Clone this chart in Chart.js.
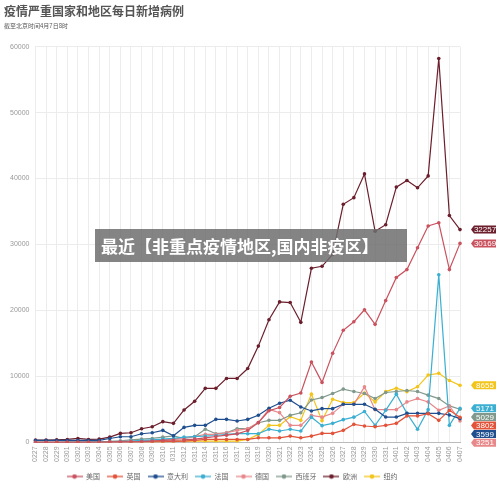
<!DOCTYPE html>
<html><head><meta charset="utf-8">
<script src="https://cdn.jsdelivr.net/npm/chart.js@4"></script>
<style>
html,body{margin:0;padding:0;background:#fff;}
#wrap{position:relative;width:500px;height:490px;}
#banner{position:absolute;left:95px;top:229px;width:312px;height:33px;background:rgba(110,110,110,0.85);color:#fff;font:bold 17px "Noto Sans CJK SC";line-height:33px;padding-left:6px;box-sizing:border-box;white-space:nowrap;}
</style></head><body>
<div id="wrap"><canvas id="c" width="500" height="490"></canvas><div id="banner">最近【非重点疫情地区,国内非疫区】</div></div>
<script>
const categories=["0227","0228","0229","0301","0302","0303","0304","0305","0306","0307","0308","0309","0310","0311","0312","0313","0314","0315","0316","0317","0318","0319","0320","0321","0322","0323","0324","0325","0326","0327","0328","0329","0330","0331","0401","0402","0403","0404","0405","0406","0407"];
const us=[10,5,10,20,20,30,30,50,70,100,120,200,300,350,400,500,700,900,1100,1300,1800,3000,4800,5300,7000,7500,12200,9100,13500,17000,18300,20100,17900,21500,25000,26200,29500,32800,33300,26200,30169];
const uk=[0,0,5,10,10,20,30,40,50,60,70,80,100,150,200,300,450,450,450,450,450,700,700,700,960,700,960,1370,1370,1830,2740,2490,2380,2590,2890,4010,4010,4360,3350,4870,3802];
const italy=[300,300,300,300,300,300,300,600,860,860,1320,1470,1830,1010,2280,2590,2590,3500,3500,3250,3500,4110,5180,5940,6390,5370,4770,5120,5120,5780,5780,5780,5020,3850,3850,4410,4410,4410,4410,4160,3599];
const france=[20,20,30,40,50,60,80,100,150,200,300,400,500,600,800,900,960,1050,1220,1320,1320,1320,2000,1730,2000,1730,3830,2540,2890,3450,3830,4690,2590,4870,7320,4410,2000,4970,25400,2590,5171];
const germany=[10,10,20,30,40,50,60,100,150,200,250,300,400,500,700,900,1220,1220,1470,1830,2080,3000,5020,4510,2590,2590,4100,3830,4410,5780,5780,8430,4970,4970,4970,6140,6650,6140,4870,5530,3251];
const spain=[10,10,20,30,50,70,100,150,250,400,500,600,800,1000,600,860,2000,1320,1470,2080,2080,2990,3350,3350,4110,4500,6440,6800,7420,8080,7720,7420,6650,7570,7720,7870,7720,7170,6650,5530,5029];
const europe=[350,350,400,450,600,450,500,800,1370,1470,2080,2380,3150,2890,4920,6240,8200,8200,9700,9700,11200,14600,18600,21300,21200,18200,26400,26700,28500,36100,37100,40700,32000,33000,38700,39700,38600,40400,58200,34400,32257];
const newyork=[null,null,null,null,null,null,null,null,null,100,100,150,100,150,200,200,200,200,200,200,450,1220,2590,2590,3900,3350,7320,3300,6550,6040,6040,7470,6140,7700,8220,7700,8430,10220,10480,9380,8655];
const seriesNames=["美国","英国","意大利","法国","德国","西班牙","欧洲","纽约"];
const seriesData=[us,uk,italy,france,germany,spain,europe,newyork];
const colors=["#c9525e","#e2533a","#1f4f8f","#3bafd2","#e8888a","#80998c","#6b1e2b","#f3c419"];
const yTicks=[0,10000,20000,30000,40000,50000,60000];

function legendIcon(col){const c=document.createElement('canvas');c.width=16;c.height=6;const g=c.getContext('2d');g.strokeStyle=col;g.lineWidth=1.3;g.beginPath();g.moveTo(0,3);g.lineTo(16,3);g.stroke();g.fillStyle=col;g.beginPath();g.arc(8,3,2.3,0,Math.PI*2);g.fill();return c;}

const endLabels={id:'endLabels',afterDatasetsDraw(chart){
  const ctx=chart.ctx;const items=[];
  chart.data.datasets.forEach((ds,i)=>{const meta=chart.getDatasetMeta(i);const p=meta.data[meta.data.length-1];items.push({y:p.y,v:ds.data[ds.data.length-1],c:ds.borderColor});});
  items.sort((a,b)=>a.y-b.y);
  for(let i=1;i<items.length;i++){if(items[i].y<items[i-1].y+8.6)items[i].y=items[i-1].y+8.6;}
  ctx.save();ctx.font='8px "Liberation Sans Narrow", "Liberation Sans"';ctx.textBaseline='middle';
  items.forEach(it=>{const x=474,w=22,h=8;ctx.fillStyle=it.c;ctx.beginPath();ctx.moveTo(x-3,it.y);ctx.lineTo(x,it.y-h/2);ctx.lineTo(x+w,it.y-h/2);ctx.lineTo(x+w,it.y+h/2);ctx.lineTo(x,it.y+h/2);ctx.closePath();ctx.fill();ctx.fillStyle='#fff';ctx.textAlign='center';ctx.fillText(String(it.v),x+w/2,it.y+0.5);});
  ctx.restore();}};

new Chart(document.getElementById('c'),{type:'line',
 data:{labels:categories,datasets:seriesNames.map((n,i)=>({label:n,data:seriesData[i],borderColor:colors[i],backgroundColor:colors[i],borderWidth:1.2,pointRadius:1.8,pointBackgroundColor:colors[i],pointBorderWidth:0,tension:0,spanGaps:false,pointStyle:'circle',_icon:legendIcon(colors[i])}))},
 options:{responsive:false,animation:false,devicePixelRatio:1,
  layout:{padding:{left:4,right:40,top:0,bottom:0}},
  plugins:{
   title:{display:true,text:'疫情严重国家和地区每日新增病例',align:'start',color:'#555',font:{family:'"Noto Sans CJK SC"',size:12,weight:'bold'},padding:{top:4,bottom:4}},
   subtitle:{display:true,text:'截至北京时间4月7日8时',align:'start',color:'#555',font:{family:'"Noto Sans CJK SC"',size:6},padding:{bottom:17}},
   legend:{position:'bottom',labels:{usePointStyle:true,pointStyleWidth:16,color:'#666',font:{family:'"Noto Sans CJK SC"',size:7},padding:7,
     generateLabels(chart){return chart.data.datasets.map((d,i)=>({text:d.label,pointStyle:d._icon,fillStyle:d.borderColor,strokeStyle:d.borderColor,lineWidth:0,datasetIndex:i,hidden:false,fontColor:'#666'}));}}},
   tooltip:{enabled:false}},
  scales:{
   x:{grid:{color:'#ececec',drawTicks:false},border:{color:'#bbb'},ticks:{autoSkip:false,maxRotation:90,minRotation:90,color:'#999',font:{family:'"Liberation Sans"',size:7},padding:4}},
   y:{min:0,max:60000,afterBuildTicks(a){a.ticks=yTicks.map(v=>({value:v}));},grid:{color:'#ececec',drawTicks:false},border:{display:false},ticks:{color:'#999',font:{family:'"Liberation Sans"',size:7},padding:6,callback:v=>String(v)}}}},
 plugins:[endLabels]});
</script></body></html>
